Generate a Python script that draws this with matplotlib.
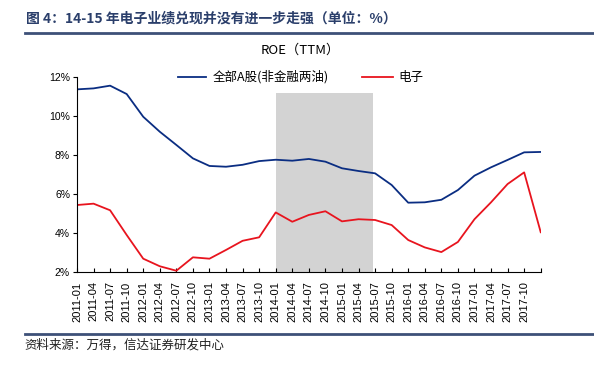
import matplotlib
matplotlib.use('Agg')
import matplotlib.pyplot as plt
from matplotlib.lines import Line2D

plt.rcParams['font.family'] = ['Noto Sans CJK SC', 'DejaVu Sans']

# quarterly dates, 2011-01 .. 2018-01 (last point has no label)
dates = ['2011-01', '2011-04', '2011-07', '2011-10',
         '2012-01', '2012-04', '2012-07', '2012-10',
         '2013-01', '2013-04', '2013-07', '2013-10',
         '2014-01', '2014-04', '2014-07', '2014-10',
         '2015-01', '2015-04', '2015-07', '2015-10',
         '2016-01', '2016-04', '2016-07', '2016-10',
         '2017-01', '2017-04', '2017-07', '2017-10',
         '2018-01']
tick_labels = dates[:-1]

# ROE TTM, %
all_a = [11.38, 11.43, 11.57, 11.14, 9.97, 9.20, 8.52, 7.83,
         7.44, 7.40, 7.50, 7.69, 7.76, 7.71, 7.80, 7.66,
         7.32, 7.18, 7.06, 6.46, 5.55, 5.57, 5.70, 6.20,
         6.94, 7.37, 7.75, 8.14, 8.16]
electronics = [5.43, 5.50, 5.16, 3.89, 2.67, 2.28, 2.05, 2.74,
               2.67, 3.12, 3.59, 3.77, 5.05, 4.57, 4.92, 5.11,
               4.59, 4.70, 4.66, 4.40, 3.63, 3.25, 3.01, 3.53,
               4.70, 5.57, 6.51, 7.11, 4.03]

shade_start = '2014-01'
shade_end = '2015-07'
shade_top = 11.2

blue = '#0a2d82'
red = '#e8141e'
W, H = 594, 365

fig = plt.figure(figsize=(5.94, 3.65), dpi=100)
ax = fig.add_axes([0.1296, 0.2556, 0.7807, 0.5326])

x = list(range(len(dates)))
i0 = dates.index(shade_start)
i1 = dates.index(shade_end)
ax.axvspan(i0, i1 - 0.12, ymin=0, ymax=(shade_top - 2) / 10, color='#d3d3d3', lw=0, zorder=0)

ax.plot(x, all_a, color=blue, lw=1.3, zorder=2)
ax.plot(x, electronics, color=red, lw=1.3, zorder=2)

ax.set_xlim(0, len(dates) - 1)
ax.set_ylim(2, 12)
ax.set_yticks([2, 4, 6, 8, 10, 12])
ax.set_yticklabels(['2%', '4%', '6%', '8%', '10%', '12%'], fontsize=7.5, family='Liberation Sans')
ax.set_xticks(x)
ax.set_xticklabels(tick_labels + [''], rotation=90, fontsize=8, family='Liberation Sans')
ax.tick_params(axis='x', direction='in', length=3, width=0.8, pad=7)
ax.tick_params(axis='y', direction='out', length=3, width=0.8, pad=2)
for s in ['top', 'right']:
    ax.spines[s].set_visible(False)

# legend drawn by hand to match the spacing
def px(xp, yp):
    return xp / W, 1 - yp / H

leg_y = 77
fig.add_artist(Line2D([178 / W, 206 / W], [1 - leg_y / H] * 2, color=blue, lw=1.3))
fig.text(*px(213, leg_y), '全部A股(非金融两油)', ha='left', va='center', fontsize=9)
fig.add_artist(Line2D([362 / W, 393 / W], [1 - leg_y / H] * 2, color=red, lw=1.3))
fig.text(*px(398, leg_y), '电子', ha='left', va='center', fontsize=9)

fig.text(*px(300, 50), 'ROE（TTM）', ha='center', va='center', fontsize=9.5)
fig.text(*px(26, 18), '图 4：14-15 年电子业绩兑现并没有进一步走强（单位：%）',
         ha='left', va='center', fontsize=10, fontweight='bold', color='#2b3f6b')
fig.add_artist(Line2D([25 / W, 1.0], [1 - 33 / H] * 2, color='#3d5078', lw=2.0))
fig.add_artist(Line2D([25 / W, 1.0], [1 - 334 / H] * 2, color='#3d5078', lw=2.0))
fig.text(*px(24, 345), '资料来源：万得，信达证券研发中心', ha='left', va='center',
         fontsize=9, style='italic', color='#222222')

fig.savefig('out.png', dpi=100)
